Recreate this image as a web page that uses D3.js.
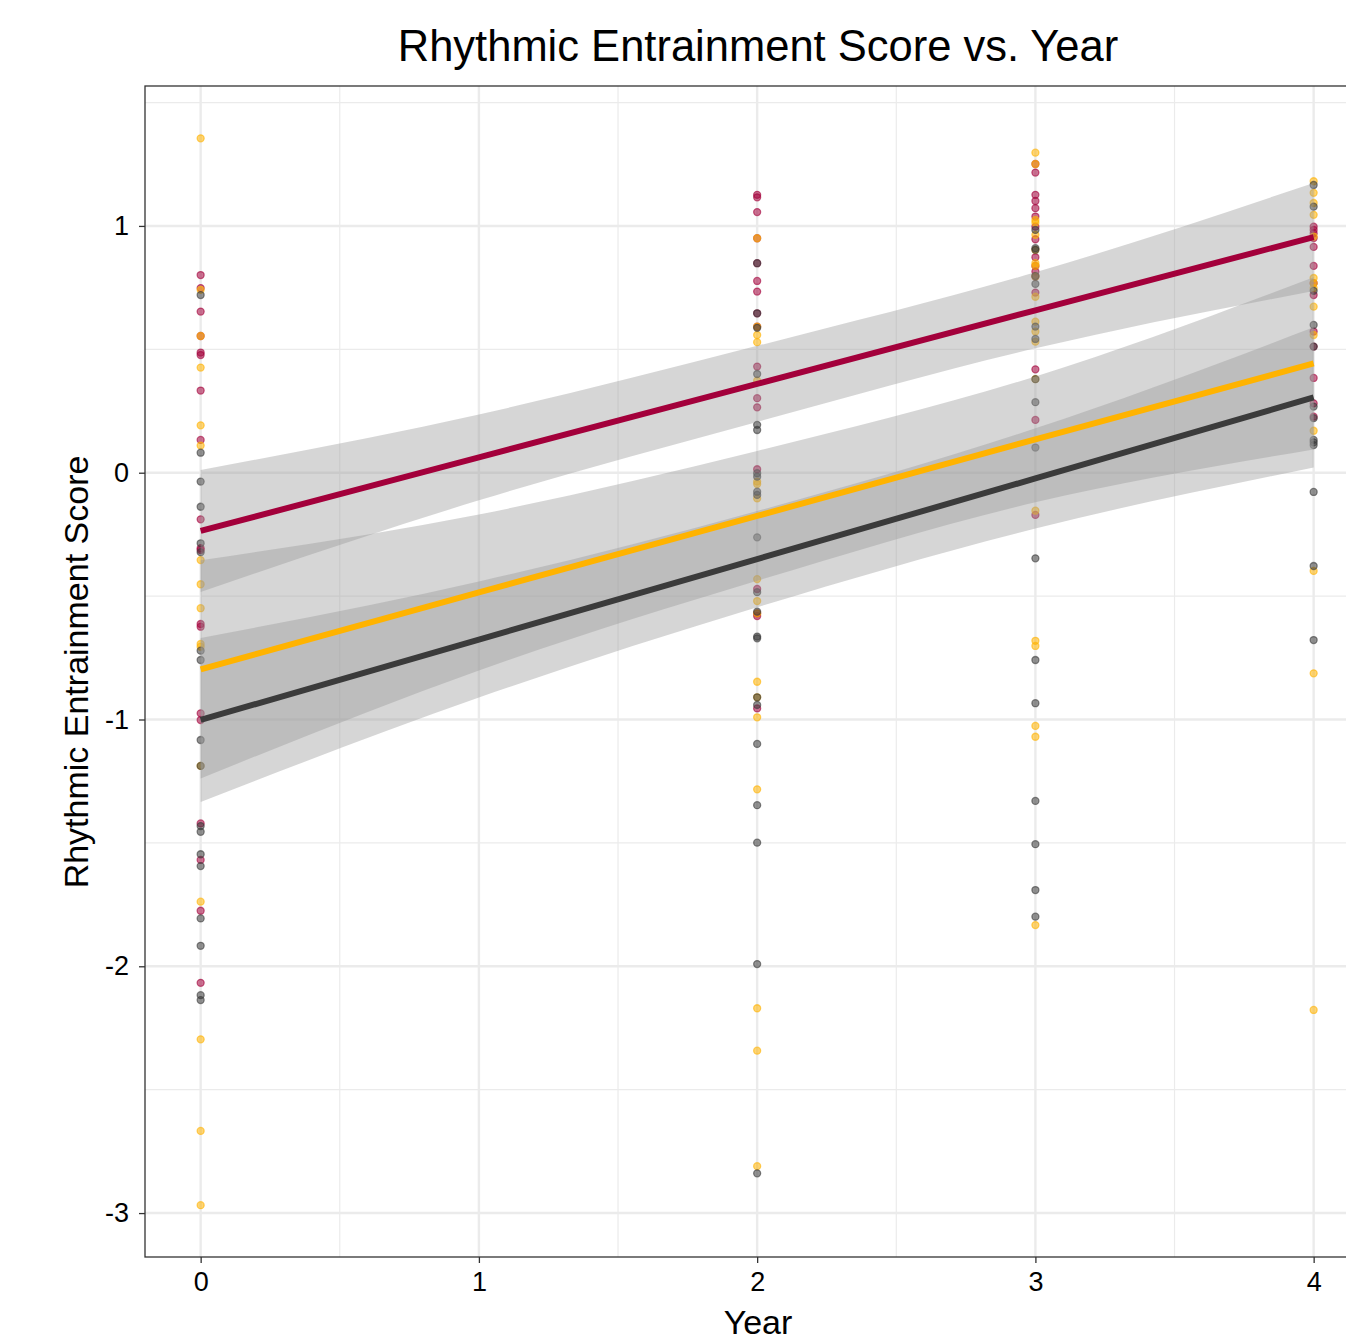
<!DOCTYPE html>
<html>
<head>
<meta charset="utf-8">
<script src="https://d3js.org/d3.v7.min.js"></script>
<style>
    body { margin: 0; background: white; }
    text { font-family: "Liberation Sans", Arial, sans-serif; }
</style>
</head>
<body>
<div id="chart"></div>
<script>
// group names and colours
var groups = ["crimson", "gold", "dark"]
var colors = { crimson: "#a3003b", gold: "#ffb300", dark: "#3b3b3b" }

// raw scores, read per year and group
var crimson_x0 = [0.801, 0.748, 0.653, 0.554, 0.487, 0.477, 0.333, 0.133, -0.189, -0.306, -0.313, -0.613, -0.624, -0.975, -1.002, -1.421, -1.569, -1.775, -2.067]
var crimson_x2 = [1.126, 1.116, 1.056, 0.950, 0.849, 0.777, 0.734, 0.646, 0.592, 0.430, 0.302, 0.265, 0.014, -0.471, -0.570, -0.581, -0.955]
var crimson_x3 = [1.251, 1.216, 1.126, 1.101, 1.072, 1.038, 0.997, 0.946, 0.873, 0.838, 0.815, 0.795, 0.730, 0.419, 0.214, -0.171]
var crimson_x4 = [0.997, 0.984, 0.970, 0.951, 0.915, 0.838, 0.768, 0.720, 0.572, 0.511, 0.384, 0.281, 0.227]

var gold_x0 = [1.355, 0.741, 0.554, 0.426, 0.192, 0.110, -0.354, -0.452, -0.549, -0.694, -0.705, -1.188, -1.738, -2.296, -2.667, -2.968]
var gold_x2 = [0.950, 0.592, 0.558, 0.529, 0.373, -0.036, -0.046, -0.104, -0.431, -0.520, -0.570, -0.847, -0.910, -0.991, -1.283, -2.170, -2.342, -2.810]
var gold_x3 = [1.297, 1.251, 1.024, 1.013, 0.964, 0.903, 0.849, 0.838, 0.795, 0.713, 0.612, 0.572, 0.531, 0.379, -0.154, -0.681, -0.702, -1.026, -1.070, -1.833]
var gold_x4 = [1.181, 1.134, 1.093, 1.045, 0.957, 0.789, 0.768, 0.748, 0.673, 0.558, 0.170, -0.398, -0.813, -2.177]

var dark_x0 = [0.720, 0.081, -0.036, -0.138, -0.286, -0.322, -0.721, -0.759, -1.083, -1.188, -1.432, -1.455, -1.546, -1.594, -1.806, -1.917, -2.117, -2.137]
var dark_x2 = [0.849, 0.646, 0.587, 0.400, 0.194, 0.173, -0.002, -0.016, -0.077, -0.090, -0.262, -0.484, -0.563, -0.664, -0.671, -0.910, -0.941, -1.099, -1.347, -1.499, -1.991, -2.839]
var dark_x3 = [0.984, 0.910, 0.903, 0.797, 0.765, 0.592, 0.542, 0.379, 0.286, 0.102, -0.347, -0.759, -0.934, -1.330, -1.505, -1.691, -1.799]
var dark_x4 = [1.166, 1.078, 0.737, 0.599, 0.511, 0.268, 0.221, 0.133, 0.123, 0.112, -0.078, -0.378, -0.678]

// fitted line and confidence band, read at years 0..4
var fit_years = [0, 1, 2, 3, 4]
var crimson_fit = [-0.236, 0.062, 0.360, 0.658, 0.955]
var crimson_lo = [-0.483, -0.112, 0.206, 0.504, 0.736]
var crimson_hi = [0.011, 0.236, 0.514, 0.812, 1.174]
var gold_fit = [-0.797, -0.485, -0.175, 0.135, 0.443]
var gold_lo = [-1.239, -0.801, -0.438, -0.120, 0.094]
var gold_hi = [-0.355, -0.169, 0.088, 0.390, 0.792]
var dark_fit = [-1.002, -0.676, -0.350, -0.023, 0.305]
var dark_lo = [-1.334, -0.911, -0.545, -0.226, 0.021]
var dark_hi = [-0.670, -0.441, -0.155, 0.180, 0.589]

var x_ticks = [0, 1, 2, 3, 4]
var x_tick_labels = ["0", "1", "2", "3", "4"]
var y_ticks = [-3, -2, -1, 0, 1]
var y_tick_labels = ["-3", "-2", "-1", "0", "1"]

var points = {
    crimson: [[0, crimson_x0], [2, crimson_x2], [3, crimson_x3], [4, crimson_x4]],
    gold: [[0, gold_x0], [2, gold_x2], [3, gold_x3], [4, gold_x4]],
    dark: [[0, dark_x0], [2, dark_x2], [3, dark_x3], [4, dark_x4]]
}
var fits = {
    crimson: [crimson_fit, crimson_lo, crimson_hi],
    gold: [gold_fit, gold_lo, gold_hi],
    dark: [dark_fit, dark_lo, dark_hi]
}

var W = 1346, H = 1341
var margin = { top: 86, left: 145, bottom: 84 }
var height = H - margin.top - margin.bottom

var svg = d3.select("#chart")
    .append("svg")
    .attr("width", W)
    .attr("height", H)

var g = svg.append("g")
    .attr("transform", "translate(" + margin.left + "," + margin.top + ")")

// panel runs past the right edge of the picture
var xScale = d3.scaleLinear()
    .domain([-0.2, 4.2])
    .range([0, 1224.3])
var yScale = d3.scaleLinear()
    .domain([-3.178, 1.567])
    .range([height, 0])
var width = xScale(4.2)

// grid lines, minor then major
var minorX = [0.5, 1.5, 2.5, 3.5], minorY = [-2.5, -1.5, -0.5, 0.5, 1.5]
g.selectAll("minorx").data(minorX).enter().append("line")
    .attr("x1", function (d) { return xScale(d) }).attr("x2", function (d) { return xScale(d) })
    .attr("y1", 0).attr("y2", height)
    .attr("stroke", "#ebebeb").attr("stroke-width", 1.2)
g.selectAll("minory").data(minorY).enter().append("line")
    .attr("y1", function (d) { return yScale(d) }).attr("y2", function (d) { return yScale(d) })
    .attr("x1", 0).attr("x2", width)
    .attr("stroke", "#ebebeb").attr("stroke-width", 1.2)
g.selectAll("majorx").data(x_ticks).enter().append("line")
    .attr("x1", function (d) { return xScale(d) }).attr("x2", function (d) { return xScale(d) })
    .attr("y1", 0).attr("y2", height)
    .attr("stroke", "#ebebeb").attr("stroke-width", 2.4)
g.selectAll("majory").data(y_ticks).enter().append("line")
    .attr("y1", function (d) { return yScale(d) }).attr("y2", function (d) { return yScale(d) })
    .attr("x1", 0).attr("x2", width)
    .attr("stroke", "#ebebeb").attr("stroke-width", 2.4)

// Add dots
groups.forEach(function (grp) {
    points[grp].forEach(function (col) {
        g.append("g").selectAll("circle")
            .data(col[1])
            .enter()
            .append("circle")
            .attr("cx", xScale(col[0]))
            .attr("cy", function (d) { return yScale(d) })
            .attr("r", 3.5)
            .style("fill", colors[grp])
            .style("fill-opacity", 0.55)
            .style("stroke", colors[grp])
            .style("stroke-opacity", 0.6)
            .style("stroke-width", 1.3)
    })
})

// confidence bands
var band = d3.area()
    .x(function (d) { return xScale(d.x) })
    .y0(function (d) { return yScale(d.lo) })
    .y1(function (d) { return yScale(d.hi) })
    .curve(d3.curveMonotoneX)
groups.forEach(function (grp) {
    var rows = fit_years.map(function (yr, i) {
        return { x: yr, lo: fits[grp][1][i], hi: fits[grp][2][i] }
    })
    g.append("path")
        .datum(rows)
        .attr("d", band)
        .style("fill", "#999999")
        .style("fill-opacity", 0.4)
})

// fitted lines
var line = d3.line()
    .x(function (d) { return xScale(d.x) })
    .y(function (d) { return yScale(d.y) })
groups.forEach(function (grp) {
    var rows = fit_years.map(function (yr, i) { return { x: yr, y: fits[grp][0][i] } })
    g.append("path")
        .datum(rows)
        .attr("d", line)
        .style("fill", "none")
        .style("stroke", colors[grp])
        .style("stroke-width", 6)
})

// panel border
g.append("rect")
    .attr("x", 0).attr("y", 0)
    .attr("width", width).attr("height", height)
    .style("fill", "none")
    .style("stroke", "#333333")
    .style("stroke-width", 1.3)

// axes
var xAxis = g.append("g")
    .attr("transform", "translate(0," + height + ")")
    .call(d3.axisBottom(xScale).tickValues(x_ticks).tickFormat(function (d, i) { return x_tick_labels[i] }).tickSize(6).tickPadding(9))
var yAxis = g.append("g")
    .call(d3.axisLeft(yScale).tickValues(y_ticks).tickFormat(function (d, i) { return y_tick_labels[i] }).tickSize(6).tickPadding(10))
xAxis.select(".domain").remove()
yAxis.select(".domain").remove()
g.selectAll(".tick line").attr("stroke", "#333333").attr("stroke-width", 1.3)
g.selectAll(".tick text")
    .style("font-size", "27px")
    .style("fill", "black")
    .style("font-family", "'Liberation Sans', Arial, sans-serif")

// title and axis labels
svg.append("text")
    .attr("x", 758)
    .attr("y", 61)
    .attr("text-anchor", "middle")
    .style("font-size", "43.5px")
    .text("Rhythmic Entrainment Score vs. Year")

svg.append("text")
    .attr("x", 758)
    .attr("y", 1334)
    .attr("text-anchor", "middle")
    .style("font-size", "34px")
    .text("Year")

svg.append("text")
    .attr("text-anchor", "middle")
    .attr("transform", "translate(88,672) rotate(-90)")
    .style("font-size", "34px")
    .text("Rhythmic Entrainment Score")
</script>
</body>
</html>
